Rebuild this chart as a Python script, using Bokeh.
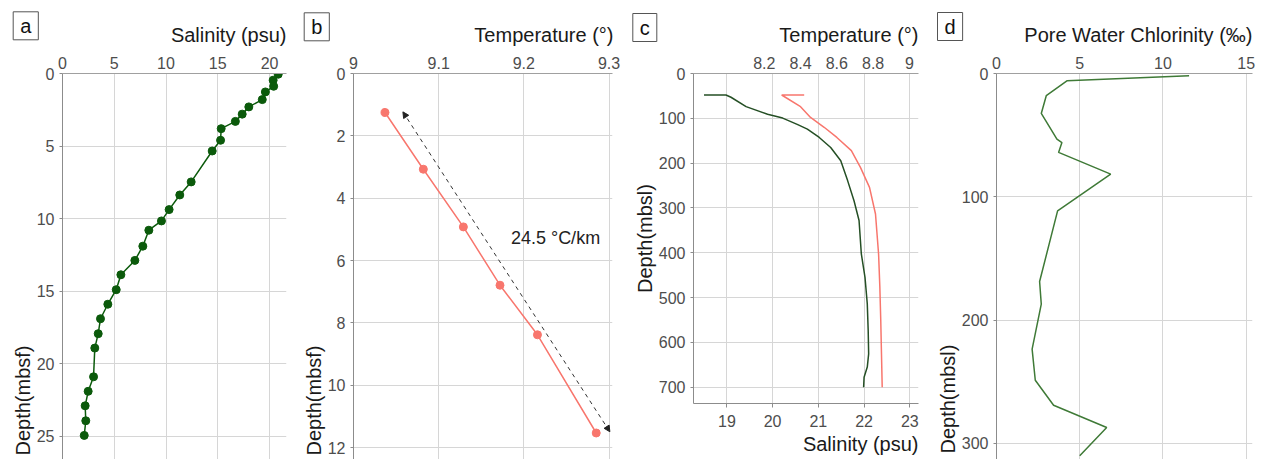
from bokeh.plotting import figure
from bokeh.layouts import row, column
from bokeh.models import (Range1d, LinearAxis, FixedTicker, CustomJSTickFormatter,
                          Title, Label, Arrow, NormalHead)
from bokeh.embed import file_html
from bokeh.resources import INLINE

# ---------------- data ----------------
a_salinity = [20.84, 20.35, 20.4, 19.6, 19.3, 18.0, 17.36, 16.7, 15.33, 15.27, 14.46, 12.43,
              11.33, 10.3, 9.56, 8.34, 7.76, 6.99, 5.64, 5.19, 4.38, 3.67, 3.45, 3.12, 3.0,
              2.48, 2.19, 2.25, 2.1]
a_depth = [0.05, 0.46, 0.88, 1.27, 1.8, 2.3, 2.8, 3.3, 3.8, 4.6, 5.34, 7.47, 8.37, 9.38,
           10.16, 10.8, 11.9, 12.88, 13.87, 14.9, 15.9, 16.9, 17.93, 18.92, 20.9, 21.9,
           22.9, 23.93, 24.94]
a_xticks = [0, 5, 10, 15, 20]
a_xlabels = ["0", "5", "10", "15", "20"]
a_yticks = [0, 5, 10, 15, 20, 25]
a_ylabels = ["0", "5", "10", "15", "20", "25"]

b_temp = [9.037, 9.082, 9.129, 9.172, 9.216, 9.285]
b_depth = [1.25, 3.07, 4.92, 6.79, 8.38, 11.53]
b_grad_x = [9.058, 9.301]
b_grad_y = [1.23, 11.49]
b_grad_text = "24.5 °C/km"
b_xticks = [9.0, 9.1, 9.2, 9.3]
b_xlabels = ["9", "9.1", "9.2", "9.3"]
b_yticks = [0, 2, 4, 6, 8, 10, 12]
b_ylabels = ["0", "2", "4", "6", "8", "10", "12"]

c_salinity = [18.5, 18.98, 19.09, 19.42, 19.89, 20.22, 20.55, 20.76, 21.02, 21.27, 21.49,
              21.64, 21.78, 21.89, 21.94, 22.02, 22.07, 22.09, 22.1, 22.07, 22.0, 21.99]
c_sal_depth = [48, 48, 53, 74, 91, 99.5, 114, 124, 142.7, 165, 194.6, 239, 284, 328,
               402.6, 454.7, 514, 573.6, 625.5, 655, 677.7, 700]
c_temp = [8.42, 8.296, 8.40, 8.455, 8.53, 8.60, 8.68, 8.73, 8.78, 8.813, 8.83, 8.837,
          8.842, 8.846, 8.85]
c_temp_depth = [48, 48, 74, 98, 120, 142.7, 172, 209.5, 254, 313.5, 402.6, 477, 551,
                625.5, 700]
c_sal_ticks = [19, 20, 21, 22, 23]
c_sal_labels = ["19", "20", "21", "22", "23"]
c_temp_ticks = [8.2, 8.4, 8.6, 8.8, 9.0]
c_temp_labels = ["8.2", "8.4", "8.6", "8.8", "9"]
c_yticks = [0, 100, 200, 300, 400, 500, 600, 700]
c_ylabels = ["0", "100", "200", "300", "400", "500", "600", "700"]

d_chl = [11.57, 4.23, 2.99, 2.69, 3.63, 3.93, 3.73, 6.86, 3.67, 2.59, 2.69, 2.14, 2.33,
         3.43, 6.62, 5.0]
d_depth = [1.9, 5.9, 18, 32.4, 53.2, 56, 64, 81.6, 111.4, 168.7, 187, 223.5, 248.7, 269,
           287, 310]
d_xticks = [0, 5, 10, 15]
d_xlabels = ["0", "5", "10", "15"]
d_yticks = [0, 100, 200, 300]
d_ylabels = ["0", "100", "200", "300"]

panel_letters = ["a", "b", "c", "d"]

# ---------------- style ----------------
FONT = "Liberation Sans"
TICK_COLOR = "#4d4d4d"
TITLE_COLOR = "#1a1a1a"
GRID = "#d6d6d6"
AXIS = "#8c8c8c"
TOPLINE = "#a0a0a0"
GREEN_A = "#0b5a0b"
GREEN_C = "#254f25"
GREEN_D = "#3f7a37"
RED = "#F8766D"
H = 459
TOP = 73


def fmt(vals, labs):
    return CustomJSTickFormatter(
        args=dict(vals=vals, labs=labs),
        code="for (let i = 0; i < vals.length; i++) { if (Math.abs(vals[i] - tick) < 1e-9) return labs[i]; } return '';")


def style_axis(ax, ticks, labels, line_color=AXIS, tick_out=0, standoff=5):
    ax.ticker = FixedTicker(ticks=ticks)
    ax.formatter = fmt(ticks, labels)
    ax.major_label_text_font = FONT
    ax.major_label_text_font_size = "16px"
    ax.major_label_text_color = TICK_COLOR
    ax.axis_line_color = line_color
    ax.major_tick_line_color = AXIS
    ax.major_tick_out = tick_out
    ax.major_tick_in = 0
    ax.minor_tick_line_color = None
    ax.major_label_standoff = standoff


def make_fig(w, x_range, y_range, lb, rb, bb):
    p = figure(width=w, height=H, x_range=x_range, y_range=y_range,
               x_axis_location="above", output_backend="svg", toolbar_location=None,
               min_border_left=lb, min_border_right=rb, min_border_top=TOP,
               min_border_bottom=bb, background_fill_color="white",
               border_fill_color="white", outline_line_color=None)
    p.grid.grid_line_color = GRID
    p.grid.grid_line_width = 1
    return p


def add_title(p, text, side, align, offset=0, standoff=0):
    t = Title(text=text, align=align, offset=offset, standoff=standoff,
              text_font=FONT, text_font_size="20px", text_font_style="normal",
              text_color=TITLE_COLOR)
    p.add_layout(t, side)


def add_top_title(p, text, frame_w, y=8):
    # axis title of the top axis, right-aligned with the plot area
    lab = Label(x=frame_w, y=y, x_units="screen", y_units="screen", text=text,
                anchor="bottom_right", text_font=FONT, text_font_size="20px",
                text_color=TITLE_COLOR)
    p.add_layout(lab, "above")


def add_letter(p, letter, x, y):
    lab = Label(x=x, y=y, x_units="screen", y_units="screen", text=letter,
                anchor="top_left", text_font=FONT, text_font_size="20px",
                text_color="#111111", border_line_color="#555555", border_line_width=1,
                background_fill_color="white", padding=(7, 3))
    p.add_layout(lab, "above")


# ---------------- panel a ----------------
pa = make_fig(300, Range1d(0, 21.64), Range1d(26.6, 0), 62, 14, 0)
style_axis(pa.xaxis[0], a_xticks, a_xlabels, line_color=TOPLINE)
style_axis(pa.yaxis[0], a_yticks, a_ylabels, tick_out=3)
pa.xgrid.ticker = FixedTicker(ticks=a_xticks)
pa.ygrid.ticker = FixedTicker(ticks=a_yticks)
pa.line(a_salinity, a_depth, line_color=GREEN_A, line_width=1.5)
pa.scatter(a_salinity, a_depth, size=8, fill_color=GREEN_A, line_color=GREEN_A)
add_top_title(pa, "Salinity (psu)", 224)
add_title(pa, "Depth(mbsf)", "left", "left", offset=4)
add_letter(pa, panel_letters[0], -49.3, 19.7)

# ---------------- panel b ----------------
pb = make_fig(325, Range1d(9.0, 9.3041), Range1d(12.38, 0), 52, 13, 0)
style_axis(pb.xaxis[0], b_xticks, b_xlabels, line_color=TOPLINE)
style_axis(pb.yaxis[0], b_yticks, b_ylabels, tick_out=3)
pb.xgrid.ticker = FixedTicker(ticks=b_xticks)
pb.ygrid.ticker = FixedTicker(ticks=b_yticks)
pb.line(b_temp, b_depth, line_color=RED, line_width=1.5)
pb.scatter(b_temp, b_depth, size=8, fill_color=RED, line_color=RED)
pb.add_layout(Arrow(x_start=b_grad_x[0], y_start=b_grad_y[0], x_end=b_grad_x[1],
                    y_end=b_grad_y[1], line_color="#333333", line_width=1,
                    line_dash="4 4",
                    start=NormalHead(size=6, fill_color="#222222", line_color="#222222"),
                    end=NormalHead(size=6, fill_color="#222222", line_color="#222222")))
pb.add_layout(Label(x=9.1848, y=5.29, text=b_grad_text, text_baseline="middle",
                    text_font=FONT, text_font_size="18px", text_color="#222222"))
add_top_title(pb, "Temperature (°)", 260)
add_title(pb, "Depth(mbsf)", "left", "left", offset=4)
add_letter(pb, panel_letters[1], -49.3, 18.7)

# ---------------- panel c ----------------
pc = figure(width=307, height=H, x_range=Range1d(18.27, 23.19), y_range=Range1d(736.3, 0),
            output_backend="svg", toolbar_location=None,
            min_border_left=68, min_border_right=14, min_border_top=TOP, min_border_bottom=56,
            outline_line_color=None)
pc.grid.grid_line_color = GRID
pc.extra_x_ranges = {"temp": Range1d(7.81, 9.05)}
bottom_ax = pc.below[0]
top_ax = LinearAxis(x_range_name="temp")
pc.add_layout(top_ax, "above")
style_axis(top_ax, c_temp_ticks, c_temp_labels, line_color=TOPLINE)
style_axis(bottom_ax, c_sal_ticks, c_sal_labels, tick_out=4, standoff=7)
style_axis(pc.yaxis[0], c_yticks, c_ylabels, tick_out=3)
pc.xgrid.ticker = FixedTicker(ticks=c_sal_ticks)
pc.ygrid.ticker = FixedTicker(ticks=c_yticks)
pc.line(c_salinity, c_sal_depth, line_color=GREEN_C, line_width=1.5)
pc.line(c_temp, c_temp_depth, line_color=RED, line_width=1.5, x_range_name="temp")
add_top_title(pc, "Temperature (°)", 225)
add_title(pc, "Salinity (psu)", "below", "right", standoff=3)
add_title(pc, "Depth(mbsl)", "left", "center", offset=6)
add_letter(pc, panel_letters[2], -60.7, 18)

# ---------------- panel d ----------------
pd_ = make_fig(330, Range1d(0, 15.38), Range1d(313, 0), 64, 10, 0)
style_axis(pd_.xaxis[0], d_xticks, d_xlabels, line_color=TOPLINE)
style_axis(pd_.yaxis[0], d_yticks, d_ylabels, tick_out=3)
pd_.xgrid.ticker = FixedTicker(ticks=d_xticks)
pd_.ygrid.ticker = FixedTicker(ticks=d_yticks)
pd_.line(d_chl, d_depth, line_color=GREEN_D, line_width=1.5)
add_top_title(pd_, "Pore Water Chlorinity (‰)", 256)
add_title(pd_, "Depth(mbsl)", "left", "left", offset=6)
add_letter(pd_, panel_letters[3], -59, 19)

layout = row(column(pa), column(pb), column(pc), column(pd_))
open("out.html", "w").write(file_html(layout, INLINE))
